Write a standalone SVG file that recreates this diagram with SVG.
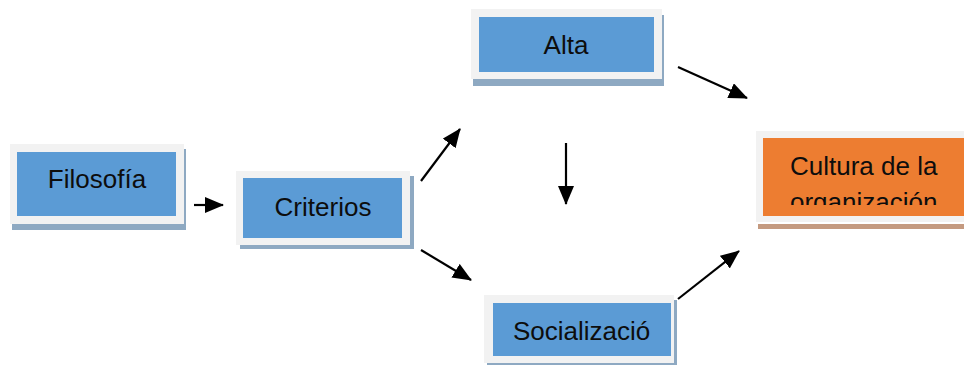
<svg xmlns="http://www.w3.org/2000/svg" width="964" height="365" viewBox="0 0 964 365">
<style>
.frame{fill:#F2F2F2}
.shb{fill:#8EA9C2}
.sho{fill:#C49A80}
.blue{fill:#5B9BD5}
.orange{fill:#ED7D31}
.lbl{font-family:"Liberation Sans",Arial,sans-serif;font-size:26px;fill:#0d0d0d}
.c{text-anchor:middle}
.con{stroke:#000;stroke-width:2.2;fill:none;marker-end:url(#ah)}
</style>
<defs>
<marker id="ah" viewBox="0 0 19 16" refX="18" refY="8" markerWidth="19" markerHeight="16" orient="auto" markerUnits="userSpaceOnUse">
<path d="M0,0 L19,8 L0,16 z" fill="#000"/>
</marker>
<clipPath id="cc"><rect x="763" y="138" width="201" height="67"/></clipPath>
</defs>
<rect width="964" height="365" fill="#fff"/>
<g id="filosofia">
<rect class="shb" x="12" y="149" width="174" height="81"/>
<rect class="frame" x="10" y="144" width="174" height="80"/>
<rect class="blue" x="17" y="152" width="159" height="64"/>
<text class="lbl c" x="97" y="188">Filosofía</text>
</g>
<g id="criterios">
<rect class="shb" x="240" y="176" width="174" height="73"/>
<rect class="frame" x="236" y="171" width="174" height="74"/>
<rect class="blue" x="243" y="178" width="159" height="60"/>
<text class="lbl c" x="323" y="216">Criterios</text>
</g>
<g id="alta">
<rect class="shb" x="473" y="15" width="191" height="71"/>
<rect class="frame" x="471" y="9" width="191" height="70"/>
<rect class="blue" x="479" y="17" width="175" height="55"/>
<text class="lbl c" x="566" y="54">Alta</text>
</g>
<g id="socializacion">
<rect class="shb" x="487" y="300" width="190" height="70"/>
<rect class="frame" x="484" y="295" width="190" height="68"/>
<rect class="blue" x="493" y="303" width="178" height="53"/>
<text class="lbl" x="513" y="340">Socializació</text>
</g>
<g id="cultura">
<rect class="sho" x="758" y="224" width="206" height="5"/>
<rect class="frame" x="756" y="131" width="208" height="91"/>
<rect class="orange" x="763" y="138" width="201" height="78"/>
<g clip-path="url(#cc)">
<text class="lbl" x="790" y="175">Cultura de la</text>
<text class="lbl" x="790" y="211">organización</text>
</g>
</g>
<g id="connectors">
<line class="con" x1="194" y1="205" x2="223" y2="205"/>
<line class="con" x1="421" y1="181" x2="460" y2="129"/>
<line class="con" x1="421" y1="250" x2="471" y2="280"/>
<line class="con" x1="566" y1="143" x2="566" y2="204"/>
<line class="con" x1="678" y1="67" x2="747" y2="98"/>
<line class="con" x1="678" y1="299" x2="739" y2="251"/>
</g>
</svg>
